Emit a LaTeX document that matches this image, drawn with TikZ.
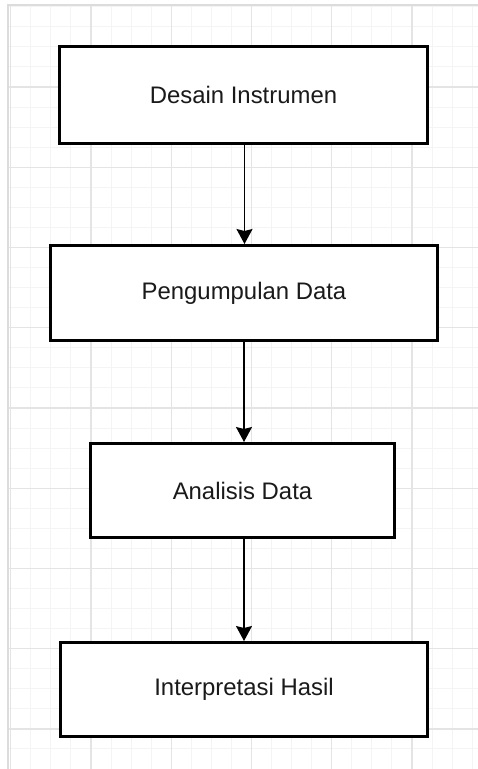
\documentclass[tikz,border=0pt]{standalone}
\usepackage{fontspec}
\setmainfont{Liberation Sans}
\usetikzlibrary{arrows.meta}
\definecolor{gridminor}{HTML}{F4F4F4}
\definecolor{gridmajor}{HTML}{E4E4E4}
\definecolor{gridedge}{HTML}{DCDCDC}
\definecolor{txt}{HTML}{1A1A1A}
\tikzset{
  stepbox/.style={draw=black, line width=3.2pt, fill=white, inner sep=0pt,
    font=\fontsize{23.9}{28}\selectfont, text=txt},
  flow/.style={draw=black, line width=1.4pt,
    -{Stealth[length=15pt,width=16pt,inset=2pt]}},
}
\begin{document}
\begin{tikzpicture}[x=1pt,y=-1pt]
\useasboundingbox (0,0) rectangle (478,769);
\fill[white] (0,0) rectangle (478,769);
% grid
\foreach \k in {-4,...,19} {
  \pgfmathsetmacro{\gx}{91+20.06*\k}
  \draw[gridminor, line width=1pt] (\gx,5) -- (\gx,769);
}
\foreach \k in {-4,...,34} {
  \pgfmathsetmacro{\gy}{87+20.06*\k}
  \ifdim \gy pt > 5pt
    \draw[gridminor, line width=1pt] (8,\gy) -- (478,\gy);
  \fi
}
\foreach \k in {-1,...,4} {
  \pgfmathsetmacro{\gx}{91+80.24*\k}
  \draw[gridmajor, line width=1.2pt] (\gx,5) -- (\gx,769);
}
\foreach \k in {-1,...,8} {
  \pgfmathsetmacro{\gy}{87+80.24*\k}
  \ifdim \gy pt > 8pt
    \draw[gridmajor, line width=1.2pt] (8,\gy) -- (478,\gy);
  \fi
}
\draw[gridedge, line width=2pt] (8,769) -- (8,4.5) -- (478,4.5);
% boxes
\node[stepbox, minimum width=367.8pt, minimum height=96.8pt] (b1) at (243.5,95) {Desain Instrumen};
\node[stepbox, minimum width=386.8pt, minimum height=94.8pt] (b2) at (244,293) {Pengumpulan Data};
\node[stepbox, minimum width=303.8pt, minimum height=93.8pt] (b3) at (242.5,490.5) {Analisis Data};
\node[stepbox, minimum width=366.8pt, minimum height=93.8pt] (b4) at (244,689.5) {Interpretasi Hasil};
% connectors
\draw[flow] ([xshift=1pt]b1.south) -- ([xshift=1pt]b1.south |- b2.north);
\draw[flow] (b2.south) -- (b2.south |- b3.north);
\draw[flow] ([xshift=1.5pt]b3.south) -- ([xshift=1.5pt]b3.south |- b4.north);
\end{tikzpicture}
\end{document}
